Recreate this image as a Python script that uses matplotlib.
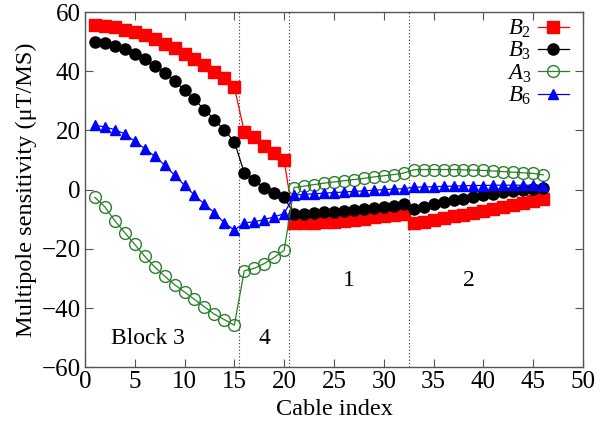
import numpy as np
import matplotlib
matplotlib.use("Agg")
import matplotlib.pyplot as plt

plt.rcParams['font.family'] = ['Liberation Serif', 'DejaVu Serif']
plt.rcParams['mathtext.fontset'] = 'custom'
plt.rcParams['mathtext.rm'] = 'Liberation Serif'
plt.rcParams['mathtext.it'] = 'Liberation Serif:italic'

# cable index 1..46 (block 3: 1-15, block 4: 16-20, block 1: 21-32, block 2: 33-46)
cable = np.arange(1, 47)

b2 = [55.8, 55.4, 54.8, 54.1, 53.2, 52.2, 50.8, 49.3, 47.7, 46.0, 44.1, 42.1, 39.8, 37.6, 34.8,
      19.5, 17.8, 14.7, 12.4, 10.0,
      -11.4, -11.3, -11.2, -11.0, -10.8, -10.5, -10.2, -9.8, -9.4, -9.0, -8.6, -8.1,
      -11.4, -10.8, -10.2, -9.6, -9.0, -8.4, -7.8, -7.1, -6.5, -5.9, -5.2, -4.6, -3.9, -3.3]
b3 = [49.8, 49.4, 48.6, 47.4, 45.8, 44.0, 41.9, 39.3, 36.7, 33.6, 30.5, 27.0, 23.7, 20.1, 16.2,
      5.7, 3.2, 0.7, -1.1, -2.6,
      -8.3, -8.1, -7.9, -7.7, -7.5, -7.2, -6.9, -6.6, -6.2, -5.8, -5.4, -4.9,
      -6.6, -5.8, -5.0, -4.2, -3.6, -3.0, -2.4, -1.9, -1.4, -0.9, -0.5, -0.1, 0.2, 0.4]
a3 = [-2.6, -5.8, -10.5, -14.5, -18.5, -22.5, -26.1, -29.2, -32.1, -34.6, -37.1, -39.6, -42.1, -43.9, -45.8,
      -27.4, -26.6, -25.0, -22.9, -20.5,
      0.7, 1.2, 1.7, 2.2, 2.6, 3.0, 3.4, 3.8, 4.3, 4.7, 5.1, 5.6,
      6.7, 6.8, 6.8, 6.8, 6.8, 6.7, 6.6, 6.5, 6.3, 6.1, 5.9, 5.7, 5.5, 5.0]
b6 = [21.7, 21.2, 20.3, 18.8, 16.4, 13.9, 11.3, 8.3, 4.9, 1.5, -1.9, -4.9, -7.8, -11.2, -13.7,
      -11.2, -10.9, -10.1, -9.2, -8.1,
      -1.9, -1.6, -1.4, -1.2, -1.0, -0.8, -0.6, -0.4, -0.2, 0.0, 0.2, 0.3,
      0.8, 0.9, 1.0, 1.1, 1.2, 1.3, 1.4, 1.4, 1.5, 1.5, 1.5, 1.5, 1.5, 1.4]

boundaries = [15.5, 20.5, 32.5]
block_labels = [("Block 3", 6.3, -50.2), ("4", 18.0, -50.2), ("1", 26.5, -30.6), ("2", 38.5, -30.6)]

fig = plt.figure(figsize=(6.15, 4.32), dpi=100)
ax = fig.add_axes([0.138, 0.150, 0.810, 0.822])

for xb in boundaries:
    ax.axvline(xb, color='#333333', linestyle=(0, (1, 2)), linewidth=0.8, zorder=1)

ax.plot(cable, b2, color='red', marker='s', markersize=8, linewidth=0.9, label='$B_2$')
ax.plot(cable, b3, color='black', marker='o', markersize=8, linewidth=0.9, label='$B_3$')
ax.plot(cable, a3, color='#2a7f2a', marker='o', markersize=8.5, markerfacecolor='none',
        markeredgewidth=1.0, linewidth=0.9, label='$A_3$')
ax.plot(cable, b6, color='blue', marker='^', markersize=7.5, linewidth=0.9, label='$B_6$')

for txt, xt, yt in block_labels:
    ax.text(xt, yt, txt, ha='center', va='center', fontsize=17)

ax.set_xlim(0, 50)
ax.set_ylim(-60, 60)
ax.set_xticks(np.arange(0, 51, 5))
ax.set_yticks(np.arange(-60, 61, 20))
ax.tick_params(direction='in', length=6, width=0.8, top=True, right=True,
               labelsize=18, colors='#555555', labelcolor='black', pad=3)
for sp in ax.spines.values():
    sp.set_color('#555555')
    sp.set_linewidth(1.0)

ax.set_xlabel('Cable index', fontsize=17.5, labelpad=4)
ax.set_ylabel('Multipole sensitivity (μT/MS)', fontsize=17.5, labelpad=3)

ax.legend(loc='upper right', frameon=False, markerfirst=False, fontsize=16.5,
          handlelength=1.35, handletextpad=0.3, labelspacing=0.0,
          borderaxespad=0.0, bbox_to_anchor=(0.99, 1.01))

fig.savefig('out.png', dpi=100)
